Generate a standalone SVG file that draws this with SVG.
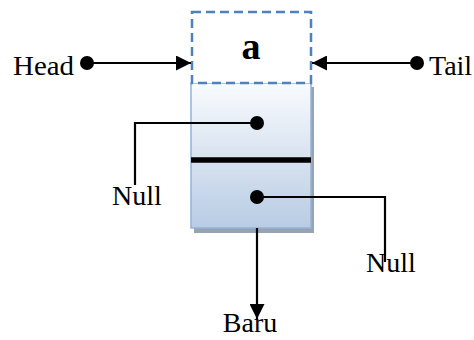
<svg xmlns="http://www.w3.org/2000/svg" width="474" height="340" viewBox="0 0 474 340">
<style>
.lbl{font-family:"Liberation Serif","Times New Roman",serif;font-size:28px;fill:#000}
.val{font-family:"Liberation Serif","Times New Roman",serif;font-size:38px;font-weight:bold;fill:#000}
.wire{fill:none;stroke:#000;stroke-width:2.2}
.dot{fill:#000}
</style>
<defs>
<linearGradient id="bodyGrad" x1="0" y1="0" x2="0" y2="1">
<stop offset="0" stop-color="#f9fbfd"/>
<stop offset="1" stop-color="#b8cce4"/>
</linearGradient>
<marker id="arrow" viewBox="0 0 15 15" refX="15" refY="7.5" markerWidth="15" markerHeight="15" markerUnits="userSpaceOnUse" orient="auto">
<path d="M0,0 L15,7.5 L0,15 Z" fill="#000"/>
</marker>
</defs>
<rect width="474" height="340" fill="#fff"/>
<g id="node-body">
<rect x="194" y="87" width="120" height="146" fill="#97a2b2"/>
<rect x="191" y="83" width="120" height="145" fill="url(#bodyGrad)" stroke="#95b3d7" stroke-width="1.5"/>
<line x1="191" y1="160" x2="311" y2="160" stroke="#000" stroke-width="5.5"/>
</g>
<g id="node-data">
<rect x="192" y="12" width="119" height="71" fill="#fff" stroke="#4f81bd" stroke-width="2.5" stroke-dasharray="9,5"/>
<text class="val" x="251" y="59" text-anchor="middle">a</text>
</g>
<g id="node-head">
<text class="lbl" x="13" y="75" textLength="61" lengthAdjust="spacingAndGlyphs">Head</text>
</g>
<g id="node-tail">
<text class="lbl" x="429" y="75">Tail</text>
</g>
<g id="node-null-left">
<text class="lbl" x="112" y="205">Null</text>
</g>
<g id="node-null-right">
<text class="lbl" x="366" y="272">Null</text>
</g>
<g id="node-baru">
<text class="lbl" x="250" y="332" text-anchor="middle">Baru</text>
</g>
<g id="connectors">
<line class="wire" x1="87" y1="63" x2="191" y2="63" marker-end="url(#arrow)"/>
<circle class="dot" cx="87" cy="63" r="7"/>
<line class="wire" x1="417" y1="63" x2="312" y2="63" marker-end="url(#arrow)"/>
<circle class="dot" cx="417" cy="63" r="7"/>
<polyline class="wire" points="257,123 135,123 135,185"/>
<circle class="dot" cx="257" cy="123" r="7"/>
<polyline class="wire" points="257,197 385,197 385,262"/>
<circle class="dot" cx="257" cy="197" r="7"/>
<line class="wire" x1="257" y1="228" x2="257" y2="319" marker-end="url(#arrow)"/>
</g>
</svg>
